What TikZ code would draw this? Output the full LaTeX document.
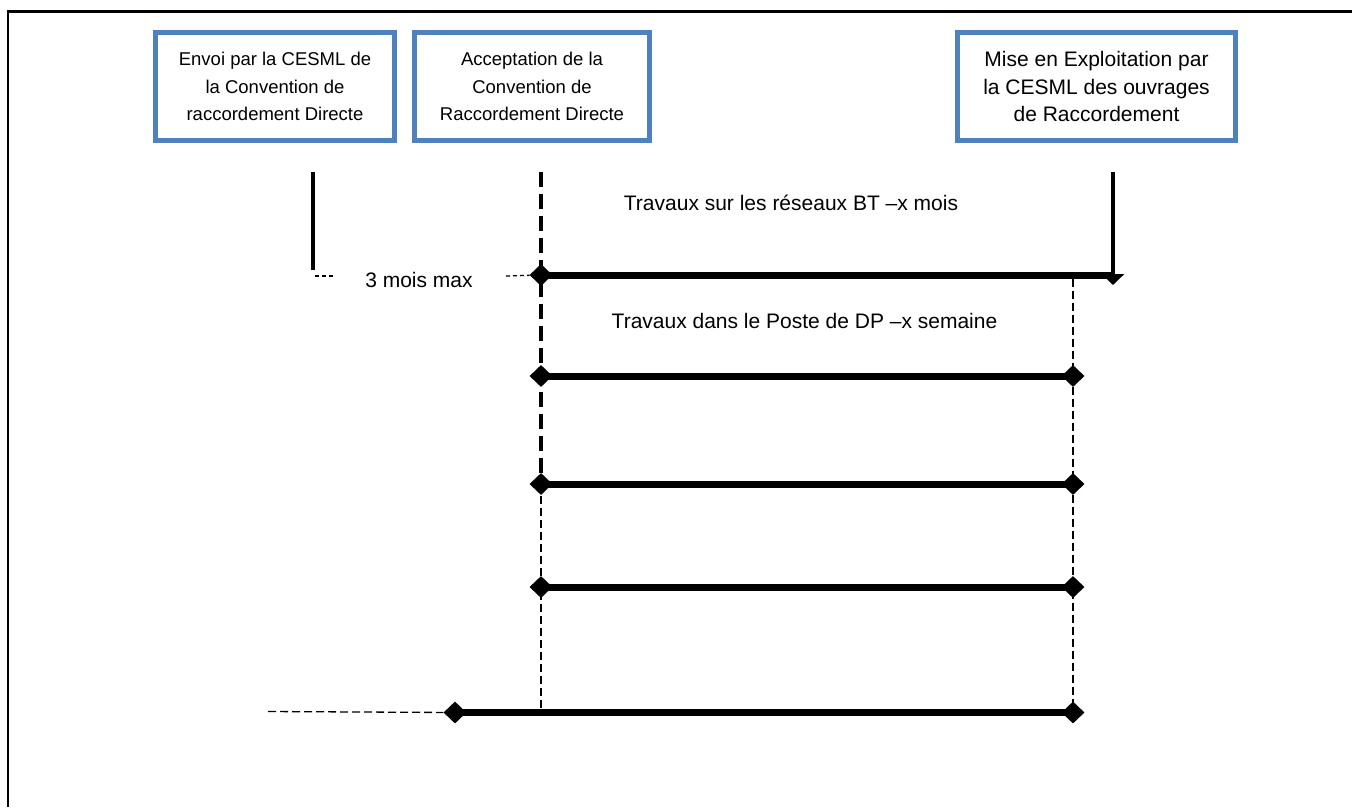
\documentclass[tikz,border=0pt]{standalone}
\usepackage{fontspec}
\setmainfont{Liberation Sans}
\usetikzlibrary{shapes.geometric,arrows.meta}
\definecolor{boxblue}{HTML}{4F81BD}
\begin{document}
\begin{tikzpicture}[x=1pt,y=-1pt,
  stagebox/.style={draw=boxblue,line width=4.8pt,inner sep=0pt,align=center,
    minimum height=108pt},
  smalltxt/.style={font=\fontsize{18.5}{27.5}\selectfont},
  bigtxt/.style={font=\fontsize{21}{27.5}\selectfont},
  bar/.style={line width=7pt},
  gem/.style={diamond,fill=black,inner sep=0pt,minimum width=23pt,minimum height=22pt},
  thinguide/.style={line width=1.3pt,dash pattern=on 8pt off 4pt},
  shortguide/.style={line width=1.3pt,dash pattern=on 4pt off 3pt},
  thickguide/.style={line width=3.3pt,dash pattern=on 15pt off 7pt},
  lbl/.style={bigtxt,inner sep=0pt,anchor=base}
]
\useasboundingbox (0,0) rectangle (1352,807);

% page frame (top and left edges)
\draw[line width=2.6pt,line join=miter] (8,807) -- (8,11.3) -- (1352,11.3);

% milestone boxes
\node[stagebox,smalltxt,minimum width=239pt] (send) at (275,86.5)
  {Envoi par la CESML de\\la Convention de\\raccordement Directe};
\node[stagebox,smalltxt,minimum width=235pt] (accept) at (532,86.5)
  {Acceptation de la\\Convention de\\Raccordement Directe};
\node[stagebox,bigtxt,minimum width=278pt] (service) at (1096.5,86.5)
  {Mise en Exploitation par\\la CESML des ouvrages\\de Raccordement};

% free line ends
\coordinate (sendtop) at (313,172);
\coordinate (sendbot) at (313,270);
\coordinate (gapL) at (315,276);
\coordinate (gapR) at (335,276);
\coordinate (lead) at (506,276);
\coordinate (acctop) at (541,172);
\coordinate (accbot) at (541,712.5);
\coordinate (endtop) at (1113,172);
\coordinate (endtip) at (1113,285);
\coordinate (bar1end) at (1113,275);
\coordinate (guidetop) at (1073,279);
\coordinate (tail) at (268,711.5);

% diamonds
\node[gem] (a1) at (541,275) {};
\node[gem] (a2) at (541,376) {};
\node[gem] (a3) at (541,484) {};
\node[gem] (a4) at (541,587) {};
\node[gem] (b5) at (455,712.5) {};
\node[gem] (e2) at (1073,376) {};
\node[gem] (e3) at (1073,484) {};
\node[gem] (e4) at (1073,587) {};
\node[gem] (e5) at (1073,712.5) {};

% vertical guides
\draw[line width=3.5pt] (sendtop) -- (sendbot);
\draw[thickguide] (acctop) -- (a3.center);
\draw[thinguide] (a3.center) -- (accbot);
\draw[thinguide] (guidetop) -- (e5.center);
\draw[line width=3.5pt,-{Triangle[width=22pt,length=11pt]}] (endtop) -- (endtip);

% short dashed leads
\draw[shortguide] (gapL) -- (gapR);
\draw[shortguide] (lead) -- (a1);
\draw[thinguide] (tail) -- (b5);

% duration bars
\draw[bar] (a1.center) -- (bar1end);
\draw[bar] (a2.center) -- (e2.center);
\draw[bar] (a3.center) -- (e3.center);
\draw[bar] (a4.center) -- (e4.center);
\draw[bar] (b5.center) -- (e5.center);

% labels
\node[lbl] (gaptxt) at (419,287) {3 mois max};
\node[lbl] (bttxt) at (791,210.5) {Travaux sur les réseaux BT –x mois};
\node[lbl] (dptxt) at (804.5,328) {Travaux dans le Poste de DP –x semaine};
\end{tikzpicture}
\end{document}
